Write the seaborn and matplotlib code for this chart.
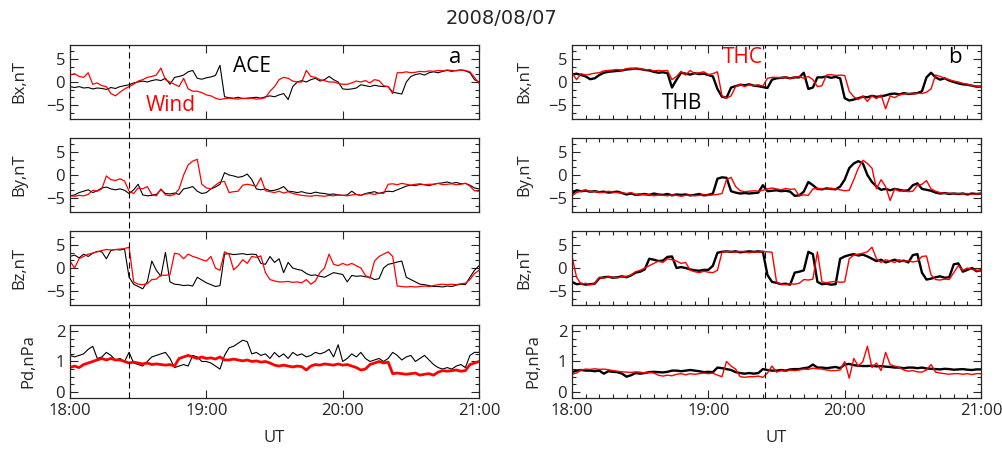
import numpy as np
import matplotlib
matplotlib.use('Agg')
import matplotlib.pyplot as plt
import matplotlib.transforms as mtransforms
from matplotlib.lines import Line2D
from matplotlib.ticker import MultipleLocator, FixedLocator
import seaborn as sns

# minutes after 18:00 UT, sampled every 2 min
minutes = np.arange(0, 181, 2)

# ---- panel a: ACE (black) and Wind (red) ----
ace_bx = [-1.0, -1.2, -1.0, -1.3, -1.2, -1.5, -1.3, -1.4, -1.6, -1.2,
          -1.4, -1.0, -0.8, -0.6, -0.2, 0.0, 0.2, 0.0, 0.3, 0.5,
          0.3, 0.8, -0.5, 1.0, 1.2, 1.5, 2.2, 2.5, 0.8, 0.6,
          0.9, 1.1, 1.4, 3.6, -3.2, -3.4, -3.5, -3.3, -3.6, -3.5,
          -3.4, -3.3, -3.5, -3.2, -3.0, -3.2, -2.8, -2.5, -3.8, -1.0,
          0.0, 0.3, 0.0, 0.5, 0.8, 0.2, 0.5, 1.2, 0.5, 0.0,
          -1.5, -1.6, -1.5, -1.3, -0.6, -0.8, -1.0, -0.7, -0.9, -1.0,
          -1.0, -2.2, -2.4, -2.6, 0.0, 1.2, 1.6, 1.8, 1.5, 2.0,
          2.2, 2.0, 2.3, 2.5, 2.3, 2.5, 2.6, 2.4, 2.0, 0.5,
          0.0]
wind_bx = [1.5, 1.8, 1.2, 1.0, 2.0, -0.5, -0.2, -0.8, -1.0, -2.5,
           -3.0, -2.2, -1.5, -1.0, -0.5, 0.2, 0.5, 1.0, 1.2, 1.5,
           3.0, 0.5, 0.0, -0.5, -1.0, 0.8, -1.5, -2.0, -2.0, -2.3,
           -2.8, -3.0, -3.5, -3.8, -3.6, -3.5, -3.6, -3.7, -3.5, -3.6,
           -3.5, -3.7, -3.6, -3.4, -2.0, -1.0, 0.5, 1.0, 0.8, 0.2,
           0.0, 0.0, 2.5, 1.2, 1.0, 0.5, 0.3, 0.0, 0.0, -0.3,
           -0.5, -0.5, -0.2, 0.2, 0.0, 0.3, -0.2, 0.5, 0.3, -0.8,
           -1.0, -2.5, 2.0, 2.0, 2.2, 2.0, 2.1, 2.3, 2.2, 2.4,
           2.3, 2.5, 2.4, 2.6, 2.5, 2.4, 2.6, 2.5, 2.2, 1.0,
           -0.3]
ace_by = [-4.5, -4.3, -3.8, -3.5, -3.2, -3.8, -3.4, -2.8, -2.6, -3.0,
          -3.2, -3.0, -3.3, -4.0, -3.2, -2.0, -4.3, -4.5, -4.4, -4.2,
          -3.2, -4.0, -4.1, -3.9, -4.2, -3.0, -2.8, -2.5, -3.5, -4.0,
          -3.8, -3.0, -2.6, -2.0, 0.5, 0.0, -0.2, -0.5, -0.3, 0.2,
          -1.0, -3.0, -3.2, -3.0, -3.4, -3.3, -3.0, -2.5, -3.5, -3.6,
          -3.8, -3.6, -3.9, -4.0, -3.7, -3.9, -4.0, -4.2, -4.1, -4.3,
          -4.4, -4.3, -3.5, -4.2, -4.4, -4.0, -3.8, -3.6, -4.0, -3.7,
          -3.5, -3.6, -3.2, -2.8, -2.4, -2.2, -2.3, -2.0, -2.1, -2.3,
          -2.0, -1.8, -1.7, -1.5, -1.8, -1.6, -1.9, -1.8, -2.2, -2.8,
          -3.0]
wind_by = [-4.5, -4.6, -4.4, -4.5, -4.2, -3.3, -3.5, -3.0, -0.2, -1.0,
           -1.2, -0.8, -1.3, -3.5, -4.0, -2.8, -3.0, -2.5, -4.2, -4.5,
           -3.0, -4.3, -4.5, -4.2, -3.0, 0.0, 2.2, 3.0, 3.4, -2.0,
           -2.8, -3.0, -2.2, -1.5, -1.4, -3.8, -3.6, -3.5, -2.2, -2.0,
           -2.2, -2.4, -0.6, -3.4, -3.6, -3.8, -3.5, -3.9, -3.6, -4.0,
           -4.2, -4.4, -4.5, -4.6, -4.4, -4.5, -4.6, -4.4, -4.5, -4.3,
           -4.4, -4.5, -4.3, -4.2, -4.4, -4.1, -4.0, -4.2, -3.9, -4.0,
           -2.0, -1.9, -2.1, -1.8, -2.0, -2.2, -2.0, -1.9, -2.1, -2.0,
           -2.0, -1.8, -2.1, -2.0, -1.9, -2.1, -2.0, -1.8, -2.4, -3.4,
           -3.5]
ace_bz = [2.5, 2.8, 2.2, 3.0, 2.5, 3.2, 3.6, 3.5, 2.0, 3.8,
          4.0, 3.9, 4.1, -2.0, -3.5, -4.0, -4.5, -3.0, 1.5, -0.5,
          -1.8, 3.4, -3.0, -3.5, -3.6, -3.8, -3.7, -3.9, -2.0, -2.6,
          -3.2, -3.6, -4.0, -3.8, 3.0, 3.1, 2.9, 3.0, 3.1, 2.9,
          3.0, 2.9, 1.0, 0.8, 2.5, 1.2, 2.0, -1.0, 1.2, 0.0,
          -0.3, -0.5, -1.2, -1.6, -1.5, -1.8, -2.0, -1.5, -1.0, -1.2,
          -1.4, -3.0, -1.6, -1.8, -1.7, -1.9, -2.0, -2.5, -2.3, 0.0,
          0.8, 1.0, 1.3, 1.5, -2.0, -2.5, -3.0, -3.5, -3.6, -3.8,
          -4.0, -4.0, -4.1, -3.9, -4.0, -3.7, -3.5, -3.6, -2.0, -0.5,
          0.5]
wind_bz = [1.5, 0.0, 2.0, 2.5, 3.0, 3.2, 3.5, 3.8, 4.0, 3.9,
           4.0, 4.1, 4.2, 4.5, -3.0, -3.5, -3.6, -3.4, -2.5, -2.4,
           -1.5, -1.6, -1.4, 3.2, 3.0, 2.0, 3.0, 2.5, 2.2, 1.8,
           1.5, 2.5, 0.0, -0.5, 3.5, 3.0, -0.4, 0.5, 1.8, 1.0,
           2.5, 2.3, 2.6, -1.0, -2.5, -2.8, -3.0, -3.0, -2.9, -3.1,
           -3.0, -3.2, -2.5, -3.5, -2.8, -1.0, 0.0, 3.0, 0.8, 0.5,
           1.0, 0.6, 1.0, 0.5, 0.0, -1.6, -2.2, 1.5, 2.5, 3.0,
           3.5, 2.5, -3.9, -4.0, -4.1, -4.0, -4.1, -4.0, -3.9, -4.0,
           -3.8, -3.6, -3.5, -3.6, -3.5, -3.6, -3.4, -3.3, -2.5, -1.2,
           -0.5]
ace_pd = [1.2, 1.15, 1.2, 1.25, 1.4, 1.5, 1.1, 1.15, 1.3, 1.2,
          1.05, 1.1, 1.0, 1.3, 0.95, 0.9, 0.85, 1.0, 1.15, 1.2,
          1.25, 1.3, 1.1, 0.8, 0.85, 0.9, 0.85, 1.2, 1.15, 1.0,
          1.0, 0.95, 0.85, 0.75, 1.2, 1.45, 1.5, 1.6, 1.7, 1.65,
          1.25, 1.3, 1.2, 1.25, 1.1, 1.3, 1.15, 1.25, 1.1, 1.3,
          1.2, 1.25, 1.15, 1.2, 1.3, 1.25, 1.3, 1.4, 1.15, 1.55,
          1.0, 1.1, 1.25, 1.15, 1.3, 1.1, 1.0, 1.05, 1.1, 1.0,
          1.1, 1.3, 1.2, 1.05, 1.15, 1.2, 1.0, 1.1, 1.2, 1.05,
          0.9, 0.8, 0.75, 0.8, 0.75, 0.85, 0.9, 0.8, 1.2, 1.3,
          1.3]
wind_pd = [0.8, 0.85, 0.8, 0.9, 0.95, 1.0, 1.05, 1.1, 1.05, 1.1,
           1.05, 1.05, 1.0, 0.95, 0.98, 0.95, 0.92, 0.95, 0.9, 0.92,
           0.9, 0.88, 0.9, 0.85, 1.1, 1.15, 1.2, 1.15, 1.1, 1.15,
           1.1, 1.12, 1.08, 1.15, 1.05, 1.05, 1.08, 1.05, 1.02, 1.05,
           1.0, 1.02, 0.98, 1.0, 0.95, 0.88, 0.85, 0.88, 0.85, 0.82,
           0.85, 0.83, 0.72, 0.85, 0.9, 0.88, 0.92, 0.9, 0.88, 0.92,
           0.88, 0.9, 0.85, 0.8, 0.72, 0.75, 0.9, 0.95, 1.0, 0.95,
           0.98, 0.6, 0.62, 0.6, 0.58, 0.6, 0.62, 0.55, 0.58, 0.6,
           0.55, 0.65, 0.7, 0.68, 0.7, 0.72, 0.68, 0.7, 0.9, 0.95,
           1.0]

# ---- panel b: THB (black) and THC (red) ----
thb_bx = [1.6, 1.8, 1.5, 1.2, 0.6, 0.8, 1.5, 2.0, 2.2, 2.3,
          2.4, 2.5, 2.7, 2.8, 2.9, 2.8, 2.6, 2.5, 2.2, 2.0,
          2.1, 1.9, -1.2, 0.5, 2.0, 1.8, 1.6, 1.9, 1.7, 1.8,
          1.5, 1.2, -1.5, -3.2, -3.4, -1.2, -0.9, -0.6, -0.7, -0.5,
          -0.8, -0.9, -1.1, -1.3, 0.5, 0.8, 0.9, 1.0, 0.8, 1.0,
          1.0, 2.0, -1.5, -1.2, 1.0, 1.0, 1.2, 0.9, 1.1, 0.8,
          -3.5, -4.0, -3.8, -3.5, -3.2, -3.3, -3.0, -3.2, -3.1, -2.9,
          -2.6, -2.5, -2.7, -2.4, -2.6, -2.5, -2.4, -2.0, 1.0, 2.0,
          1.0, 0.5, 0.8, 0.3, 0.0, -0.3, -0.5, -0.6, -0.8, -1.0,
          -1.0]
thc_bx = [2.0, 0.5, 1.8, 1.5, 1.7, 1.9, 2.0, 2.4, 2.5, 2.6,
          2.7, 2.5, 2.9, 3.0, 2.8, 2.9, 2.6, 2.7, 2.4, 2.5,
          2.4, 2.5, 0.5, 1.2, 2.3, 1.5, 2.5, 1.8, 2.0, 2.2,
          1.6, 1.8, 2.2, -3.0, -3.5, -3.0, -1.0, -0.5, -1.0, -0.6,
          -0.8, -0.6, -0.9, 0.8, 1.0, 1.0, 0.9, 1.1, 0.8, 1.0,
          1.2, 0.8, 1.2, 0.5, -1.0, -0.8, 1.5, 1.6, 1.4, 1.5,
          1.4, -2.0, -3.2, -3.8, -3.0, -4.2, -3.0, -3.6, -2.8, -5.8,
          -3.0, -3.4, -2.8, -2.6, -2.5, -2.6, -2.4, -2.5, -2.2, -1.5,
          1.5, 1.2, 0.8, 0.5, 0.2, 0.0, -0.3, -0.5, -0.8, -0.9,
          -1.0]
thb_by = [-4.0, -3.3, -3.5, -3.4, -3.6, -3.5, -3.7, -3.6, -3.8, -3.7,
          -3.6, -3.9, -4.2, -4.0, -4.3, -4.2, -4.1, -4.3, -4.0, -4.2,
          -4.3, -4.1, -4.4, -4.2, -4.3, -4.2, -4.4, -4.3, -4.1, -4.4,
          -4.3, -4.0, -0.8, -0.5, -0.6, -3.5, -3.8, -4.0, -3.9, -4.0,
          -3.9, -3.8, -2.2, -3.5, -3.4, -3.3, -3.5, -3.4, -3.6, -4.5,
          -4.4, -3.6, -1.5, -2.2, -3.0, -3.1, -2.9, -3.0, -3.1, -2.5,
          -1.0, 1.5, 2.5, 3.0, 2.5, 0.0, -1.5, -2.5, -3.2, -3.0,
          -3.3, -3.0, -3.2, -3.4, -3.3, -2.2, -1.8, -3.0, -3.2, -3.4,
          -3.8, -4.0, -3.9, -4.1, -4.0, -4.1, -4.0, -4.2, -4.0, -4.1,
          -4.0]
thc_by = [-4.5, -3.8, -3.5, -3.2, -3.6, -3.6, -3.7, -3.8, -3.5, -3.7,
          -3.8, -3.9, -4.0, -3.8, -4.2, -4.1, -4.3, -4.2, -4.5, -4.3,
          -4.4, -4.5, -4.3, -4.4, -4.6, -4.4, -4.3, -4.5, -4.4, -4.2,
          -4.4, -4.3, -4.2, -4.0, -1.0, -0.5, -2.5, -3.4, -3.6, -3.5,
          -3.4, -3.5, -3.3, -3.0, -2.8, -3.0, -3.2, -2.9, -3.1, -3.0,
          -4.5, -4.3, -4.4, -3.0, -2.9, -3.0, -3.1, -2.9, -3.0, -3.2,
          -3.4, -3.3, -1.0, 1.5, 3.2, 2.5, 1.5, -3.0, -1.0, -2.5,
          -5.5, -3.0, -3.5, -3.4, -3.6, -3.5, -2.2, -2.0, -1.2, -3.0,
          -3.5, -3.8, -4.0, -3.9, -4.1, -4.0, -4.1, -4.0, -4.2, -4.1,
          -4.0]
thb_bz = [-3.0, -3.5, -3.4, -3.6, -3.5, -3.4, -2.2, -2.0, -1.9, -2.1,
          -2.0, -1.8, -2.0, -1.6, -1.0, -0.8, -0.3, 2.0, 1.8, 1.5,
          1.6, 2.4, 2.5, 0.0, 0.2, 0.0, -0.3, -0.5, -0.6, -0.4,
          -0.4, 0.5, 3.3, 3.5, 3.6, 3.5, 3.6, 3.4, 3.5, 3.6,
          3.5, 3.6, 3.5, -1.5, -3.0, -3.2, -3.5, -3.4, -3.6, -1.0,
          -0.8, -0.5, 3.5, 3.0, -3.0, -3.5, -3.4, -3.6, -3.5, 2.0,
          2.5, 2.8, 3.0, 2.7, 2.9, 2.5, 2.0, 1.5, 1.8, 1.2,
          1.5, 1.8, 1.4, 1.6, 1.2, 2.8, 3.0, -1.0, -2.5, -2.3,
          -2.0, -1.8, -2.1, -2.0, 0.8, 1.0, -0.8, -0.4, 0.0, -0.7,
          -0.5]
thc_bz = [2.5, -2.0, -3.5, -3.3, -3.6, -3.4, -2.0, -2.2, -1.9, -2.0,
          -2.1, -1.9, -1.8, -1.5, -0.8, -0.5, 0.0, 0.5, 1.0, 1.5,
          1.2, 2.0, 1.8, 1.5, 1.0, 1.2, -0.5, -0.8, -1.0, -0.7,
          -0.9, -1.0, -0.5, 3.4, 3.6, 3.5, 3.4, 3.6, 3.5, 3.3,
          3.5, 3.4, 3.6, 3.5, 3.4, -3.0, -3.5, -3.6, -3.4, -3.5,
          -3.3, -2.5, -2.6, -2.4, 3.5, -3.0, -3.2, -3.0, -2.9, -3.1,
          -3.0, 2.0, 2.8, 3.0, 3.2, 3.5, 4.5, 2.0, 1.2, 1.8,
          1.5, 1.2, 1.8, 1.4, 1.6, 1.3, 1.5, 2.5, 2.6, -1.5,
          -2.5, -2.6, -2.4, -2.5, -1.0, 0.5, -0.5, 0.0, -0.3, -0.5,
          -0.6]
thb_pd = [0.65, 0.7, 0.72, 0.7, 0.7, 0.68, 0.7, 0.6, 0.68, 0.66,
          0.65, 0.6, 0.5, 0.55, 0.62, 0.6, 0.62, 0.65, 0.66, 0.65,
          0.64, 0.66, 0.7, 0.7, 0.68, 0.7, 0.72, 0.7, 0.68, 0.65,
          0.66, 0.65, 0.8, 0.78, 0.75, 0.72, 0.65, 0.62, 0.6, 0.62,
          0.6, 0.62, 0.75, 0.72, 0.7, 0.7, 0.72, 0.7, 0.74, 0.75,
          0.75, 0.78, 0.8, 0.9, 0.8, 0.8, 0.78, 0.8, 0.82, 0.78,
          0.9, 0.92, 0.88, 0.86, 0.85, 0.85, 0.86, 0.84, 0.85, 0.83,
          0.82, 0.8, 0.8, 0.78, 0.8, 0.8, 0.78, 0.8, 0.77, 0.76,
          0.75, 0.74, 0.76, 0.75, 0.73, 0.74, 0.75, 0.73, 0.72, 0.74,
          0.74]
thc_pd = [0.58, 0.62, 0.72, 0.75, 0.74, 0.76, 0.74, 0.75, 0.73, 0.7,
          0.68, 0.66, 0.65, 0.64, 0.66, 0.65, 0.62, 0.64, 0.62, 0.55,
          0.52, 0.55, 0.53, 0.58, 0.6, 0.56, 0.6, 0.58, 0.6, 0.62,
          0.6, 0.62, 0.55, 0.5, 1.0, 0.85, 0.75, 0.5, 0.48, 0.5,
          0.5, 0.52, 0.48, 0.62, 0.85, 0.65, 0.7, 0.68, 0.72, 0.7,
          0.72, 0.75, 0.74, 0.78, 0.76, 0.75, 0.72, 0.7, 0.7, 0.72,
          1.0, 0.45, 1.1, 0.85, 1.0, 1.5, 0.8, 0.95, 0.7, 1.3,
          0.9, 0.85, 0.8, 0.72, 0.68, 0.7, 0.66, 0.65, 0.72, 0.9,
          0.65, 0.62, 0.6, 0.58, 0.6, 0.6, 0.58, 0.6, 0.57, 0.6,
          0.6]

row_labels = ['Bx,nT', 'By,nT', 'Bz,nT', 'Pd,nPa']
time_ticks = [0, 60, 120, 180]
time_labels = ['18:00', '19:00', '20:00', '21:00']
event_time = [26, 85]  # dashed marker, minutes after 18:00

sns.set_style('ticks')
plt.rcParams['font.family'] = ['Open Sans', 'DejaVu Sans']
plt.rcParams['xtick.direction'] = 'in'
plt.rcParams['ytick.direction'] = 'in'

fig = plt.figure(figsize=(10.03, 4.49), dpi=100)

# (axes left, series pairs, black lw, red lw for B panels, red lw for Pd, x minor ticks, ylabel pad)
columns = [
    (0.0698, [(ace_bx, wind_bx), (ace_by, wind_by), (ace_bz, wind_bz), (ace_pd, wind_pd)],
     0.8, 0.9, 2.0, False, 13.5),
    (0.5703, [(thb_bx, thc_bx), (thb_by, thc_by), (thb_bz, thc_bz), (thb_pd, thc_pd)],
     1.7, 1.0, 1.0, True, 11.5),
]
bottoms = [0.735, 0.5278, 0.3207, 0.1136]
heights = [0.1648, 0.1648, 0.1648, 0.1626]

all_axes = []
for ci, (left, series, lw_black, lw_red_b, lw_red_pd, minor_x, ypad) in enumerate(columns):
    col_axes = []
    for ri in range(4):
        ax = fig.add_axes([left, bottoms[ri], 0.4078, heights[ri]])
        black, red = series[ri]
        lw_red = lw_red_b if ri < 3 else lw_red_pd
        sns.lineplot(x=minutes, y=black, ax=ax, color='black', linewidth=lw_black)
        sns.lineplot(x=minutes, y=red, ax=ax, color='red', linewidth=lw_red)
        ax.set_xlim(0, 180)
        if ri < 3:
            ax.set_ylim(-8, 8)
            ax.yaxis.set_major_locator(FixedLocator([-5, 0, 5]))
            ax.yaxis.set_minor_locator(MultipleLocator(5 / 3))
        else:
            ax.set_ylim(-0.2, 2.2)
            ax.yaxis.set_major_locator(FixedLocator([0, 1, 2]))
            ax.yaxis.set_minor_locator(MultipleLocator(0.25))
        ax.xaxis.set_major_locator(FixedLocator(time_ticks))
        if minor_x:
            ax.xaxis.set_minor_locator(MultipleLocator(6))
        ax.tick_params(which='both', top=True, right=True, labelsize=12)
        ax.tick_params(which='major', length=6, width=0.8)
        ax.tick_params(which='minor', length=3, width=0.8)
        ax.set_ylabel(row_labels[ri], fontsize=12, labelpad=ypad)
        if ri == 3:
            ax.set_xticklabels(time_labels)
            ax.set_xlabel('UT', fontsize=12, labelpad=8)
        else:
            ax.set_xticklabels([])
            ax.set_xlabel('')
        for s in ax.spines.values():
            s.set_linewidth(0.9)
        col_axes.append(ax)
    # dashed event line through all four panels
    trans = mtransforms.blended_transform_factory(col_axes[0].transData, fig.transFigure)
    fig.add_artist(Line2D([event_time[ci], event_time[ci]],
                          [bottoms[3], bottoms[0] + heights[0]],
                          transform=trans, color='black', linewidth=0.8,
                          linestyle=(0, (5.5, 3.5))))
    all_axes.append(col_axes)

axa = all_axes[0][0]
axa.text(80, 3.3, 'ACE', color='black', fontsize=15, ha='center', va='center')
axa.text(44.5, -5.0, 'Wind', color='red', fontsize=15, ha='center', va='center')
axa.text(169.5, 5.2, 'a', color='black', fontsize=16, ha='center', va='center')
axb = all_axes[1][0]
axb.text(75, 5.2, 'THC', color='red', fontsize=15, ha='center', va='center')
axb.text(48.5, -4.6, 'THB', color='black', fontsize=15, ha='center', va='center')
axb.text(168.5, 5.2, 'b', color='black', fontsize=16, ha='center', va='center')

fig.text(0.5, 0.958, '2008/08/07', ha='center', va='center', fontsize=14,
         family=['Liberation Sans Narrow', 'DejaVu Sans'])

fig.savefig('out.png', dpi=100)
